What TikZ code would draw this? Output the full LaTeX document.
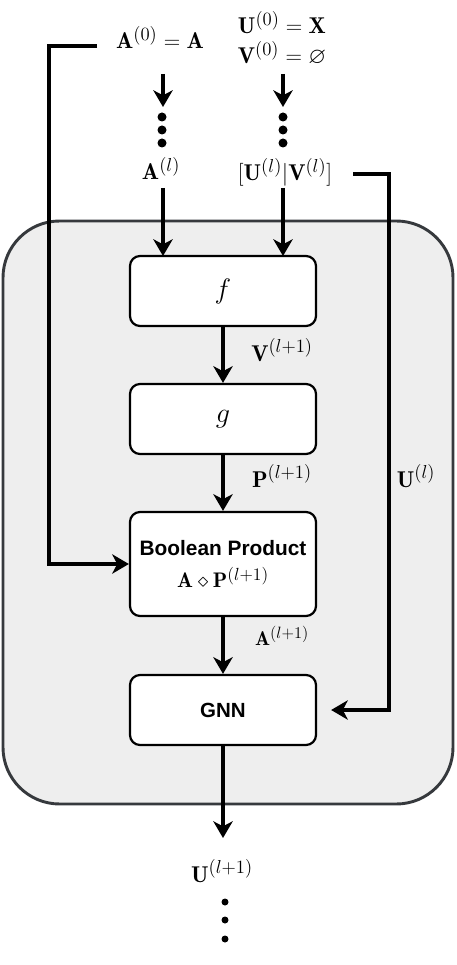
\RequirePackage{fix-cm}
\documentclass[tikz,border=0pt]{standalone}
\usepackage{amsmath,amssymb}
\usepackage{fontspec}
\newfontfamily\boxfont{Liberation Sans}
\usetikzlibrary{arrows.meta}
\definecolor{layerfill}{HTML}{EEEEEE}
\definecolor{layeredge}{HTML}{36393D}
\DeclareMathSizes{19.5}{19.5}{16}{12}
\DeclareMathSizes{18}{18}{15}{11}
\DeclareMathSizes{17}{17}{14}{10}
\DeclareMathSizes{24}{24}{18}{14}
\newcommand{\vdotcol}[3]{%
  \foreach \k in {#2} {%
    \fill (#1,\k) circle (#3);%
  }}

\begin{document}
\begin{tikzpicture}[x=0.03cm,y=-0.03cm,
    block/.style={draw,fill=white,line width=1.9pt,rounded corners=0.3cm,
      minimum width=5.58cm,minimum height=2.1cm,font=\fontsize{24}{28}\selectfont},
    flow/.style={line width=2.8pt,-{Stealth[length=0.5cm,width=0.58cm,inset=0.15cm]}},
    lbl/.style={font=\fontsize{19.5}{23}\selectfont,inner sep=1pt},
    small lbl/.style={font=\fontsize{17}{20}\selectfont,inner sep=1pt}]
    \useasboundingbox (0,0) rectangle (457,965);

    % the layer
    \draw[fill=layerfill,draw=layeredge,line width=2.5pt,rounded corners=1.7cm]
      (3,221) rectangle (453,804);

    \node[block] (f) at (223,291) {$f$};
    \node[block] (g) at (223,419) {$g$};
    \node[block,minimum height=3.12cm,align=center] (bp) at (223,564)
      {{\boxfont\fontsize{17.8}{21}\selectfont\bfseries Boolean Product}\\[0pt]
       {\fontsize{18}{21}\selectfont$\mathbf{A}\diamond\mathbf{P}^{(l+1)}$}};
    \node[block] (gnn) at (223,710) {\boxfont\fontsize{17.5}{21}\selectfont\bfseries GNN};

    % inputs
    \node[lbl,anchor=base] (a0) at (160,49) {$\mathbf{A}^{(0)}=\mathbf{A}$};
    \node[lbl,anchor=base] (u0) at (282,34) {$\mathbf{U}^{(0)}=\mathbf{X}$};
    \node[lbl,anchor=base] (v0) at (282,64) {$\mathbf{V}^{(0)}=\varnothing$};
    \node[lbl,anchor=base] (al) at (161,180) {$\mathbf{A}^{(l)}$};
    \node[lbl,anchor=base] (uv) at (285,181) {$[\mathbf{U}^{(l)}|\mathbf{V}^{(l)}]$};

    \coordinate (atop) at (163,74);
    \coordinate (adots) at (163,107);
    \coordinate (utop) at (283,74);
    \coordinate (udots) at (283,107);
    \draw[flow] (atop) -- (adots);
    \draw[flow] (utop) -- (udots);
    \vdotcol{162}{117,130,143}{0.135cm}
    \vdotcol{283}{117,130,143}{0.135cm}

    \draw[flow] (163,188) -- (163,256);
    \draw[flow] (283,188) -- (283,256);

    % inside
    \draw[flow] (f) -- (g);
    \draw[flow] (g) -- (bp);
    \draw[flow] (bp) -- (gnn);
    \node[lbl] (vl) at (282,350) {$\mathbf{V}^{(l+1)}$};
    \node[lbl] (pl) at (282,476) {$\mathbf{P}^{(l+1)}$};
    \node[small lbl] (al1) at (282,636) {$\mathbf{A}^{(l+1)}$};

    % skip wires
    \draw[flow] (97,46) -| ([xshift=-2.4cm]bp.west) -- (bp.west);
    \draw[flow] (353,174) -| ([xshift=2.16cm]gnn.east) -- ([xshift=0.42cm]gnn.east);
    \node[lbl] (ul0) at (416,476) {$\mathbf{U}^{(l)}$};

    % output
    \coordinate (out) at (223,838);
    \draw[flow] (gnn) -- (out);
    \node[lbl,anchor=base] (ul) at (222,882) {$\mathbf{U}^{(l+1)}$};
    \vdotcol{225}{902,920,939}{0.105cm}
\end{tikzpicture}
\end{document}
